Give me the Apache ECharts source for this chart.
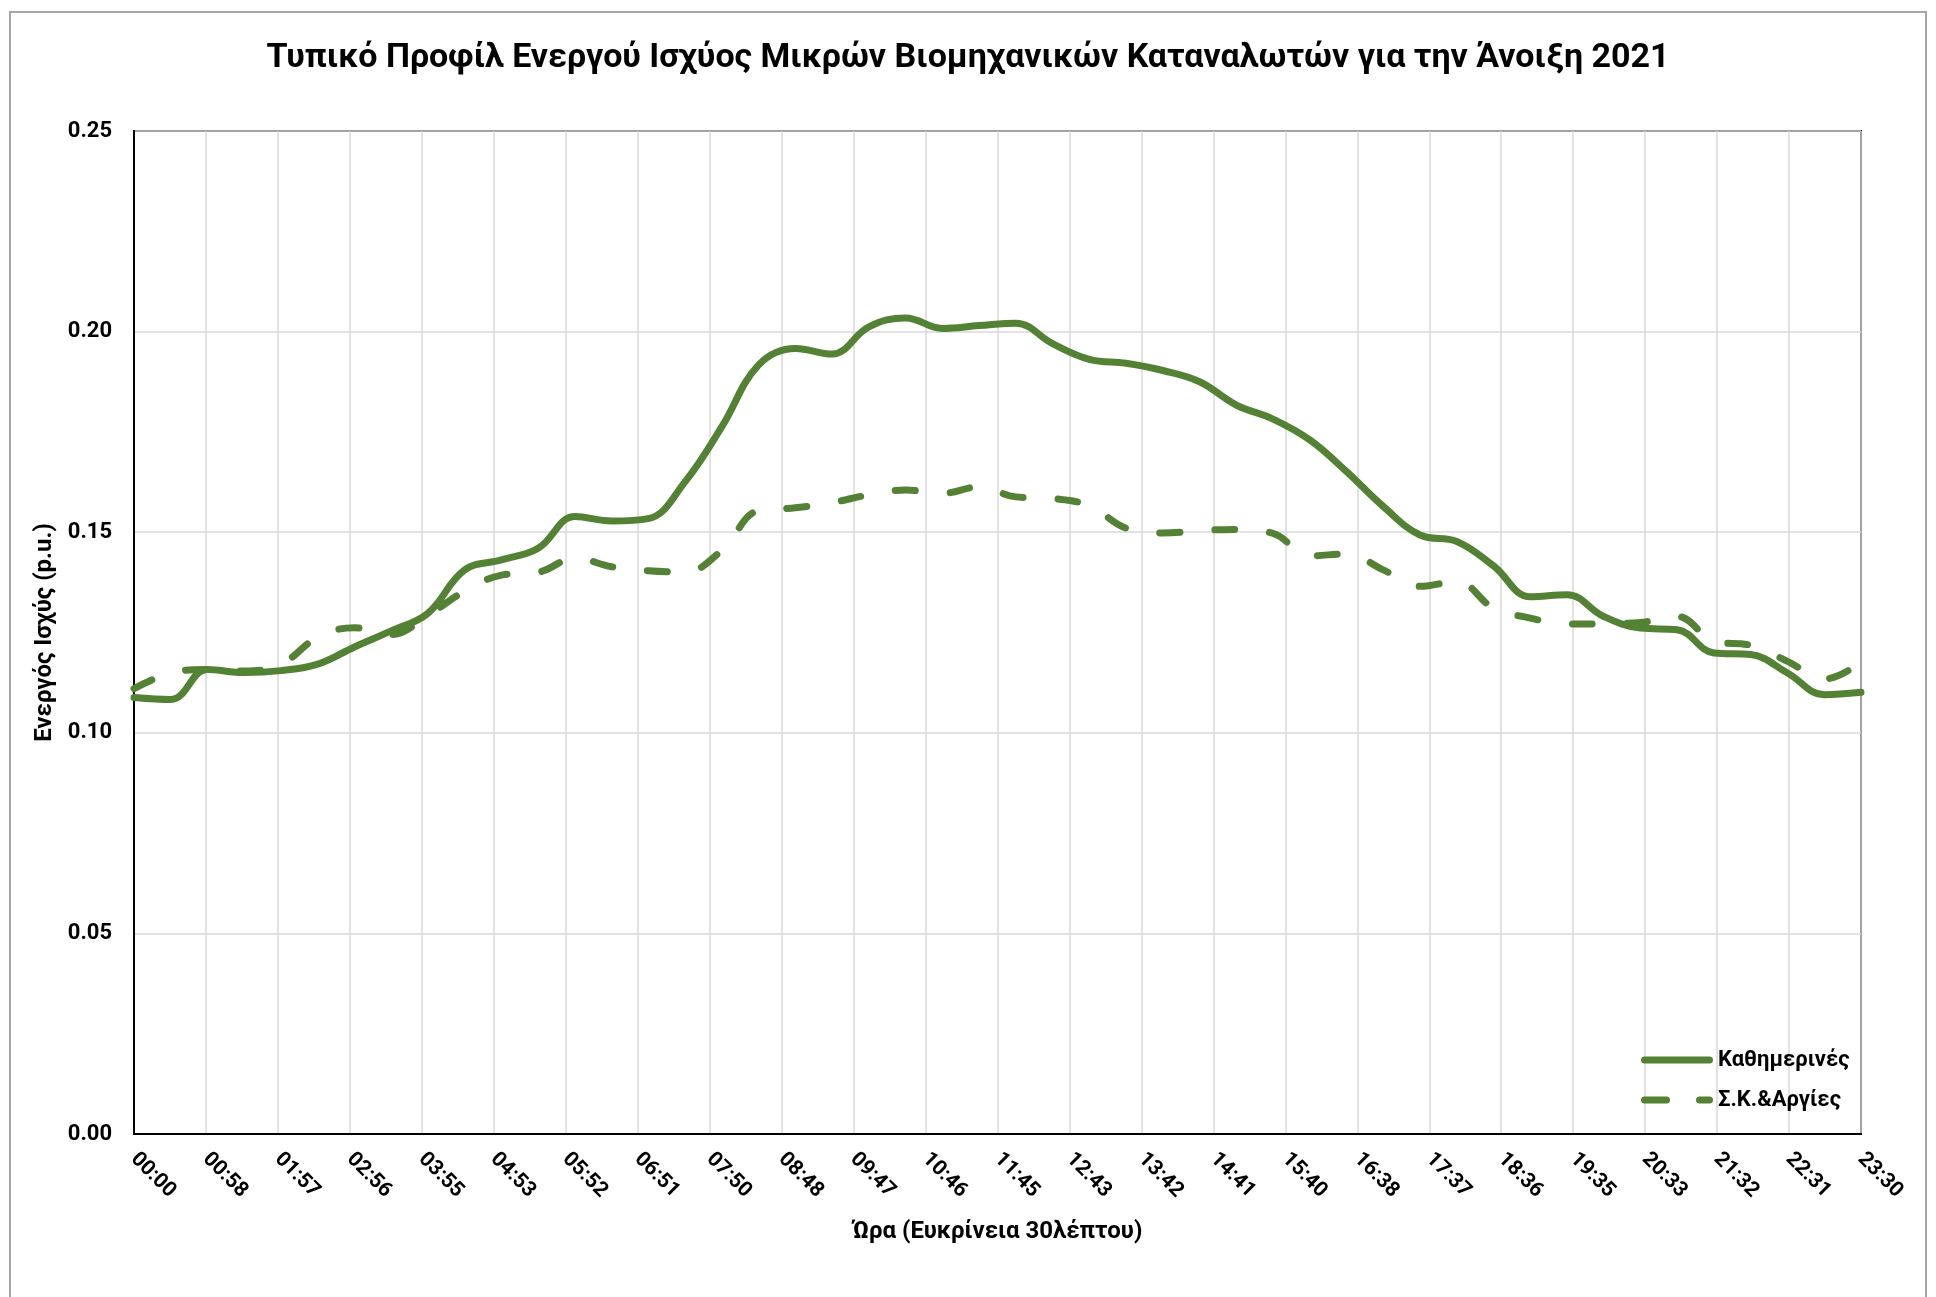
<!DOCTYPE html>
<html>
<head>
<meta charset="utf-8">
<script src="https://cdn.jsdelivr.net/npm/echarts@6/dist/echarts.min.js"></script>
<style>html,body{margin:0;padding:0;background:#fff}#c{width:1936px;height:1297px}</style>
</head>
<body>
<div id="c"></div>
<script>
// ---- data ----
const timeLabels = ['00:00','00:30','01:00','01:30','02:00','02:30','03:00','03:30','04:00','04:30','05:00','05:30',
  '06:00','06:30','07:00','07:30','08:00','08:30','09:00','09:30','10:00','10:30','11:00','11:30',
  '12:00','12:30','13:00','13:30','14:00','14:30','15:00','15:30','16:00','16:30','17:00','17:30',
  '18:00','18:30','19:00','19:30','20:00','20:30','21:00','21:30','22:00','22:30','23:00','23:30'];
const weekdays = [0.1088,0.1083,0.1158,0.1150,0.1155,0.1171,0.1214,0.1254,0.1298,0.1406,0.1431,0.1460,
  0.1539,0.1528,0.1534,0.1626,0.1763,0.1917,0.1958,0.1944,0.2012,0.2034,0.2008,0.2015,
  0.2021,0.1970,0.1931,0.1921,0.1903,0.1875,0.1817,0.1782,0.1730,0.1651,0.1564,0.1493,
  0.1477,0.1416,0.1339,0.1344,0.1290,0.1261,0.1257,0.1199,0.1195,0.1149,0.1095,0.1101];
const weekends = [0.1110,0.1149,0.1158,0.1154,0.1171,0.1238,0.1262,0.1245,0.1293,0.1353,0.1393,0.1400,
  0.1435,0.1414,0.1404,0.1401,0.1455,0.1554,0.1561,0.1574,0.1593,0.1605,0.1597,0.1613,
  0.1588,0.1584,0.1566,0.1510,0.1498,0.1504,0.1507,0.1497,0.1441,0.1446,0.1406,0.1365,
  0.1377,0.1311,0.1286,0.1271,0.1272,0.1275,0.1290,0.1228,0.1218,0.1178,0.1134,0.1176];
const xTickLabels = ['00:00','00:58','01:57','02:56','03:55','04:53','05:52','06:51','07:50','08:48','09:47','10:46',
  '11:45','12:43','13:42','14:41','15:40','16:38','17:37','18:36','19:35','20:33','21:32','22:31','23:30'];
const yTickLabels = ['0.00','0.05','0.10','0.15','0.20','0.25'];
const seriesNames = ['Καθημερινές','Σ.Κ.&Αργίες'];
const titleText = 'Τυπικό Προφίλ Ενεργού Ισχύος Μικρών Βιομηχανικών Καταναλωτών για την Άνοιξη 2021';
const xAxisTitle = 'Ώρα (Ευκρίνεια 30λέπτου)';
const yAxisTitle = 'Ενεργός Ισχύς (p.u.)';

// ---- build ----
function toMin(s){ const p = s.split(':'); return (+p[0])*60 + (+p[1]); }
const xs = timeLabels.map(toMin);
const X_MAX = xs[xs.length-1];
const X_STEP = X_MAX/(xTickLabels.length-1);
const Y_STEP = 0.05;
const GREEN = '#548235';
const FONT = 'Roboto, "Noto Sans", sans-serif';
// legend icons (72 x 7, rounded ends)
const ICON_SOLID = 'path://M3.5,0H68.5A3.5,3.5 0 0 1 68.5,7H3.5A3.5,3.5 0 0 1 3.5,0Z';
const ICON_DASH = 'path://M3.5,0H25.5A3.5,3.5 0 0 1 25.5,7H3.5A3.5,3.5 0 0 1 3.5,0ZM58.5,0H68.5A3.5,3.5 0 0 1 68.5,7H58.5A3.5,3.5 0 0 1 58.5,0Z';

const chart = echarts.init(document.getElementById('c'), null, {renderer:'canvas'});
chart.setOption({
  backgroundColor:'#fff',
  animation:false,
  title:{
    text:titleText, left:'center', top:36,
    textStyle:{fontFamily:FONT, fontWeight:'bold', fontSize:34, color:'#000'}
  },
  graphic:[{type:'rect', silent:true, z:-10,
    shape:{x:10,y:12,width:1916,height:1320},
    style:{fill:'none', stroke:'#a6a6a6', lineWidth:2}}],
  grid:{left:134, right:75, top:131, bottom:163, show:true, borderColor:'#000', borderWidth:2,
    containLabel:false, outerBoundsMode:'none'},
  legend:{
    orient:'vertical', left:1636, top:1044, itemWidth:72, itemHeight:7, itemGap:18,
    textStyle:{fontFamily:FONT, fontWeight:'bold', fontSize:22, color:'#000'},
    data:[{name:seriesNames[0], icon:ICON_SOLID}, {name:seriesNames[1], icon:ICON_DASH}]
  },
  xAxis:{
    type:'value', min:0, max:X_MAX, interval:X_STEP,
    name:xAxisTitle, nameLocation:'middle', nameGap:86,
    nameTextStyle:{fontFamily:FONT, fontWeight:'bold', fontSize:24, color:'#000'},
    axisLine:{show:true, lineStyle:{color:'#000', width:2}},
    axisTick:{show:false},
    splitLine:{show:true, lineStyle:{color:'#d9d9d9', width:1.5}},
    axisLabel:{rotate:-45, margin:22, fontFamily:FONT, fontWeight:'bold', fontSize:21, color:'#000',
      formatter:v => xTickLabels[Math.round(v/X_STEP)] || ''}
  },
  yAxis:{
    type:'value', min:0, max:0.25, interval:Y_STEP,
    name:yAxisTitle, nameLocation:'middle', nameGap:74,
    nameTextStyle:{fontFamily:FONT, fontWeight:'bold', fontSize:24, color:'#000'},
    axisLine:{show:true, lineStyle:{color:'#000', width:2}},
    axisTick:{show:false},
    splitLine:{show:true, lineStyle:{color:'#d9d9d9', width:1.5}},
    axisLabel:{margin:22, fontFamily:FONT, fontWeight:'bold', fontSize:22, color:'#000',
      formatter:v => yTickLabels[Math.round(v/Y_STEP)] || ''}
  },
  series:[
    {name:seriesNames[0], type:'line', smooth:0.4, symbol:'none', showSymbol:false,
     data:xs.map((x,i)=>[x, weekdays[i]]),
     itemStyle:{color:GREEN},
     lineStyle:{color:GREEN, width:7, cap:'round', join:'round'}},
    {name:seriesNames[1], type:'line', smooth:0.4, symbol:'none', showSymbol:false,
     data:xs.map((x,i)=>[x, weekends[i]]),
     itemStyle:{color:GREEN},
     lineStyle:{color:GREEN, width:7, type:[20,35], cap:'round', join:'round'}}
  ]
});
</script>
</body>
</html>
